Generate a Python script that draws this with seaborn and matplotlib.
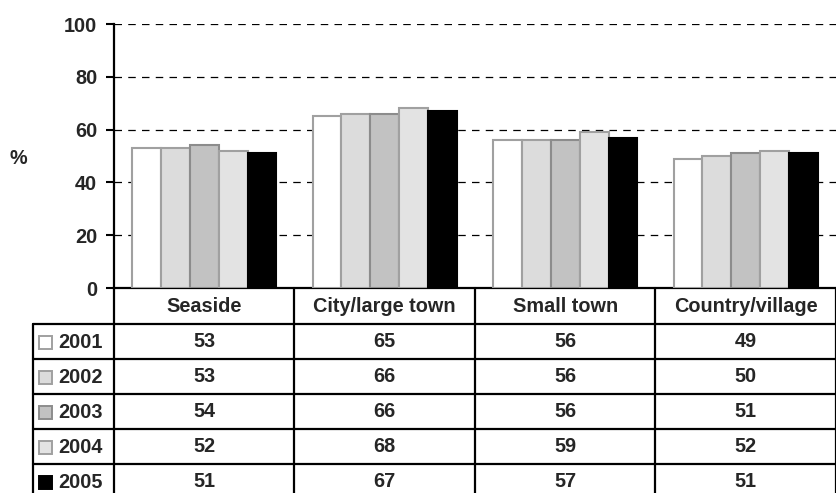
import pandas as pd
import matplotlib
matplotlib.use('Agg')
import matplotlib.pyplot as plt
import seaborn as sns
from matplotlib.patches import Rectangle

categories = ['Seaside', 'City/large town', 'Small town', 'Country/village']
years = ['2001', '2002', '2003', '2004', '2005']
values_2001 = [53, 65, 56, 49]
values_2002 = [53, 66, 56, 50]
values_2003 = [54, 66, 56, 51]
values_2004 = [52, 68, 59, 52]
values_2005 = [51, 67, 57, 51]
y_ticks = [0, 20, 40, 60, 80, 100]

series = [values_2001, values_2002, values_2003, values_2004, values_2005]
fills = ['#ffffff', '#dcdcdc', '#c2c2c2', '#e3e3e3', '#000000']
edges = ['#a0a0a0', '#a0a0a0', '#8c8c8c', '#a0a0a0', '#000000']

rows = []
for year, vals in zip(years, series):
    for cat, v in zip(categories, vals):
        rows.append((cat, year, v))
df = pd.DataFrame(rows, columns=['Area', 'Year', 'Percent'])

sns.set_style('white')
plt.rcParams['font.family'] = ['Liberation Sans', 'DejaVu Sans']
plt.rcParams['font.weight'] = 'bold'
FS = 14.3

W, H = 837, 493
fig = plt.figure(figsize=(W / 100, H / 100), dpi=100)
ax_l, ax_r, ax_t, ax_b = 114, 836, 24, 288
ax = fig.add_axes([ax_l / W, 1 - ax_b / H, (ax_r - ax_l) / W, (ax_b - ax_t) / H])

sns.barplot(data=df, x='Area', y='Percent', hue='Year', order=categories, hue_order=years,
            palette=fills, width=0.8, saturation=1, legend=False, ax=ax)
for i, cont in enumerate(ax.containers):
    for bar in cont:
        bar.set_edgecolor(edges[i])
        bar.set_linewidth(1.5)
        bar.set_zorder(3)

ax.set_ylim(0, 100)
ax.set_xlim(-0.5, len(categories) - 0.5)
ax.set_yticks(y_ticks)
ax.set_yticklabels([str(t) for t in y_ticks], fontsize=FS, fontweight='bold')
ax.set_xticks([])
ax.set_xlabel('')
ax.set_ylabel('')
ax.yaxis.grid(True, linestyle=(0, (6, 5)), color='black', linewidth=0.9, zorder=0)
ax.set_axisbelow(True)
for s in ['top', 'right']:
    ax.spines[s].set_visible(False)
for s in ['left', 'bottom']:
    ax.spines[s].set_color('black')
    ax.spines[s].set_linewidth(1.6)
ax.tick_params(axis='y', direction='out', length=6, width=1.5, color='black', pad=6, left=True)

fig.text(10 / W, 1 - 158 / H, '%', fontsize=FS, fontweight='bold', ha='left', va='center')

# table under the axes, drawn in axes-x / pixel-y terms
ppx = ax_b - ax_t
def yax(py):
    return (ax_b - py) / ppx

lab_left = (33 - ax_l) / (ax_r - ax_l)
header_bottom = 324
row_h = 35
row_tops = [header_bottom + i * row_h for i in range(len(years) + 1)]
kw = dict(transform=ax.transAxes, clip_on=False, color='black', linewidth=1.6)

# header
ax.plot([0, 0], [yax(ax_b), yax(row_tops[-1] + 10)], **kw)
for j in range(1, len(categories) + 1):
    x = j / len(categories)
    ax.plot([x, x], [yax(ax_b), yax(row_tops[-1] + 10)], **kw)
for j, cat in enumerate(categories):
    ax.text((j + 0.5) / len(categories), yax((ax_b + header_bottom) / 2 + 1), cat,
            transform=ax.transAxes, ha='center', va='center', fontsize=FS, fontweight='bold')
for py in row_tops:
    ax.plot([lab_left, 1], [yax(py), yax(py)], **kw)
ax.plot([lab_left, lab_left], [yax(header_bottom), yax(row_tops[-1] + 10)], **kw)

for i, (year, vals) in enumerate(zip(years, series)):
    yc = row_tops[i] + row_h / 2 + 1
    sq = 13
    r = Rectangle((39, H - (yc + sq / 2)), sq, sq, transform=None,
                  facecolor=fills[i], edgecolor=edges[i], linewidth=1.4, clip_on=False)
    fig.patches.append(r)
    fig.text(58 / W, 1 - yc / H, year, fontsize=FS, fontweight='bold', ha='left', va='center')
    for j, v in enumerate(vals):
        ax.text((j + 0.5) / len(categories), yax(yc - 1), str(v), transform=ax.transAxes,
                ha='center', va='center', fontsize=FS, fontweight='bold')

fig.savefig('out.png', dpi=100)
